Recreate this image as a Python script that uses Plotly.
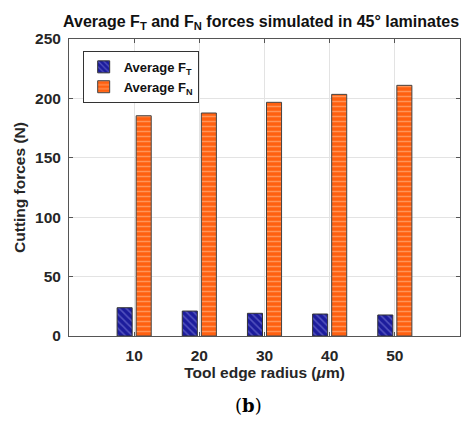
import plotly.graph_objects as go

radius = [10, 20, 30, 40, 50]
avg_ft = [23.8, 21.0, 19.1, 18.5, 17.7]
avg_fn = [185.4, 187.7, 196.7, 203.4, 211.0]
y_ticks = [0, 50, 100, 150, 200, 250]

FONT = "Liberation Sans, Arial, sans-serif"

fig = go.Figure()
fig.add_trace(go.Bar(
    x=radius, y=avg_ft, name="<b>Average F<sub>T</sub></b>",
    marker=dict(color="#1c1c9c", line=dict(color="#333333", width=1),
                pattern=dict(shape="\\", fgcolor="#8a8ae0", size=5, solidity=0.3,
                             fillmode="overlay")),
))
fig.add_trace(go.Bar(
    x=radius, y=avg_fn, name="<b>Average F<sub>N</sub></b>",
    marker=dict(color="#ff6010", line=dict(color="#444444", width=1),
                pattern=dict(shape="-", fgcolor="#ffc8a0", size=5, solidity=0.3,
                             fillmode="overlay")),
))

fig.update_layout(
    width=473, height=423,
    margin=dict(l=69, r=13, t=39, b=87),
    paper_bgcolor="white", plot_bgcolor="white",
    font=dict(family=FONT, color="#262626"),
    barmode="group", bargap=0.415, bargroupgap=0.21,
    title=dict(text="<b>Average F<sub>T</sub> and F<sub>N</sub> forces simulated in 45° laminates</b>",
               x=0.552, xanchor="center", y=0.963, yanchor="top",
               font=dict(size=16, color="#111111")),
    legend=dict(x=0.035, y=0.96, xanchor="left", yanchor="top",
                bgcolor="white", bordercolor="#333333", borderwidth=1,
                font=dict(size=13, color="#111111"),
                itemwidth=30, tracegroupgap=2),
    showlegend=True,
)
fig.update_xaxes(
    range=[0, 60], tickvals=radius, ticks="inside", ticklen=4,
    tickcolor="#555555", showline=True, linecolor="#555555", linewidth=1, mirror="ticks",
    showgrid=True, gridcolor="#e3e3e3", zeroline=False,
    tickfont=dict(size=15.5, color="#262626"), ticktext=[f"<b>{r}</b>" for r in radius],
    ticklabelstandoff=5,
    title=dict(text="<b>Tool edge radius (<i>μ</i>m)</b>", font=dict(size=15.5, color="#262626"),
               standoff=4),
)
fig.update_yaxes(
    range=[0, 250], tickvals=y_ticks, ticktext=[f"<b>{v}</b>" for v in y_ticks],
    ticks="inside", ticklen=4, tickcolor="#555555",
    showline=True, linecolor="#555555", linewidth=1, mirror="ticks",
    showgrid=True, gridcolor="#e3e3e3", zeroline=False,
    tickfont=dict(size=15.5, color="#262626"),
    ticklabelstandoff=4,
    title=dict(text="<b>Cutting forces (N)</b>", font=dict(size=15.5, color="#262626"),
               standoff=5),
)
fig.add_annotation(
    text="(<b>b</b>)", xref="paper", yref="paper", x=0.46, y=-0.235,
    xanchor="center", yanchor="middle", showarrow=False,
    font=dict(family="DejaVu Serif, Liberation Serif, serif", size=18, color="#000000"),
)

fig.write_html("out.html")
